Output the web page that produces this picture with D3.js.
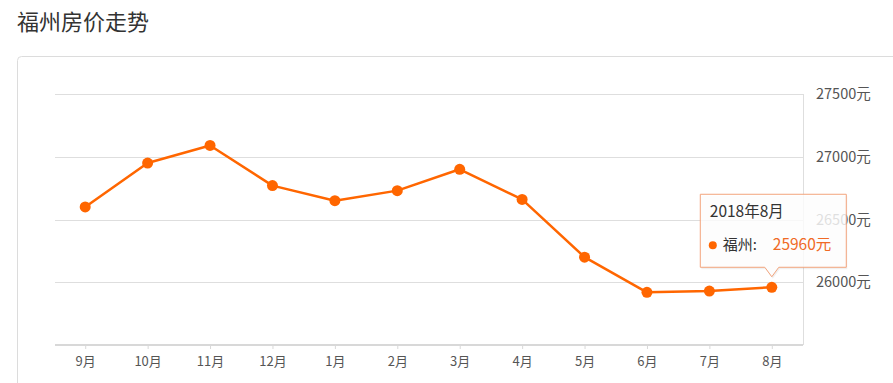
<!DOCTYPE html>
<html><head><meta charset="utf-8">
<script src="https://cdn.jsdelivr.net/npm/d3@7"></script>
<style>html,body{margin:0;padding:0;background:#fff;overflow:hidden}</style>
</head><body>
<svg id="c" width="893" height="383"></svg>
<script>
const title = "福州房价走势";
const categories = ["9月","10月","11月","12月","1月","2月","3月","4月","5月","6月","7月","8月"];
const values = [26600,26950,27090,26770,26650,26730,26900,26660,26200,25920,25930,25960];
const yTicks = [26000,26500,27000,27500];
const seriesName = "福州";
const tooltipTitle = "2018年8月";
const unit = "元";

const font = "'Noto Sans CJK SC','Noto Sans',sans-serif";
const orange = "#ff6600";
const svg = d3.select("#c");

svg.append("text").attr("x",17).attr("y",30).attr("font-family",font)
  .attr("font-size",22).attr("fill","#333").text(title);

svg.append("rect").attr("x",17.5).attr("y",56.5).attr("width",900).attr("height",400)
  .attr("rx",4).attr("fill","#fff").attr("stroke","#dcdcdc");

const x = d3.scalePoint().domain(categories).range([54,803]).padding(0.5);
const y = d3.scaleLinear().domain([25500,27500]).range([345,94]);

// gridlines
svg.append("g").selectAll("line").data(yTicks).join("line")
  .attr("x1",55).attr("x2",803)
  .attr("y1",d=>Math.round(y(d))+0.5).attr("y2",d=>Math.round(y(d))+0.5)
  .attr("stroke","#dedede");
// right frame line
svg.append("line").attr("x1",803.5).attr("x2",803.5).attr("y1",y(27500)).attr("y2",y(25500))
  .attr("stroke","#dedede");

// x axis
const xa = svg.append("g").attr("transform","translate(0,345)")
  .call(d3.axisBottom(x).tickSize(4).tickPadding(8));
xa.select(".domain").attr("d","M55,0H803").attr("stroke","#d8d8d8").attr("stroke-width",2);
xa.selectAll(".tick line").attr("stroke","#d8d8d8");
xa.selectAll(".tick text").attr("font-family",font).attr("font-size",13).attr("fill","#555");

// y axis labels (right)
const ya = svg.append("g").attr("transform","translate(805,0)")
  .call(d3.axisRight(y).tickValues(yTicks).tickSize(0).tickPadding(11).tickFormat(d=>d+unit));
ya.select(".domain").remove();
ya.selectAll(".tick text").attr("font-family",font).attr("font-size",14.5).attr("fill","#555");

// line
const line = d3.line().x((d,i)=>x(categories[i])).y(d=>y(d));
svg.append("path").datum(values).attr("d",line).attr("fill","none")
  .attr("stroke",orange).attr("stroke-width",2.5).attr("stroke-linejoin","round");
svg.append("g").selectAll("circle").data(values).join("circle")
  .attr("cx",(d,i)=>x(categories[i])).attr("cy",d=>y(d)).attr("r",5.5).attr("fill",orange);

// tooltip
const li = values.length-1;
const px = x(categories[li]), py = y(values[li]);
const tipY = py-10.5, bb = tipY-9.5, bt = bb-73, bl = px-71.5, br = px+74.5;
const tp = `M${bl},${bt}H${br}V${bb}H${px+7}L${px},${tipY}L${px-7},${bb}H${bl}Z`;
svg.append("path").attr("d",tp).attr("fill","rgba(0,0,0,0.06)").attr("transform","translate(1,2)");
svg.append("path").attr("d",tp).attr("fill","rgba(255,255,255,0.82)").attr("stroke","#f3a47c");
svg.append("text").attr("x",bl+9.5).attr("y",bt+23).attr("font-family",font).attr("font-size",15.5)
  .attr("fill","#333").text(tooltipTitle);
svg.append("circle").attr("cx",bl+12.5).attr("cy",bt+51).attr("r",4).attr("fill",orange);
svg.append("text").attr("x",bl+22.5).attr("y",bt+56).attr("font-family",font).attr("font-size",15)
  .attr("fill","#333").text(seriesName+":");
svg.append("text").attr("x",bl+72.5).attr("y",bt+56).attr("font-family",font).attr("font-size",15.5)
  .attr("fill","#f06a25").text(values[li]+unit);
</script>
</body></html>
